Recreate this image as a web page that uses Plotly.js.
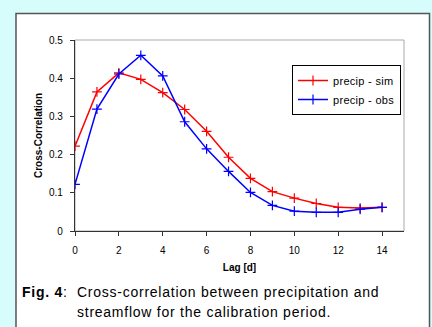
<!DOCTYPE html>
<html><head><meta charset="utf-8">
<script src="https://cdn.plot.ly/plotly-3.0.1.min.js"></script>
<style>html,body{margin:0;padding:0;background:#d6fcfc;}#c{width:432px;height:327px;}
.annotation-text{letter-spacing:0.75px;}
.legendtext{letter-spacing:0.3px;}</style>
</head><body><div id="c"></div>
<script>
const lag = [0,1,2,3,4,5,6,7,8,9,10,11,12,13,14];
const precipSim = [0.222,0.364,0.414,0.397,0.362,0.318,0.261,0.193,0.138,0.103,0.086,0.072,0.062,0.060,0.062];
const precipObs = [0.122,0.319,0.411,0.460,0.406,0.286,0.215,0.156,0.101,0.067,0.052,0.049,0.049,0.057,0.062];
const xTicks = [0,2,4,6,8,10,12,14];
const yTicks = [0,0.1,0.2,0.3,0.4,0.5];
const yTickText = ['0','0.1','0.2','0.3','0.4','0.5'];

const F = 'Liberation Sans, Arial, sans-serif';
const mk = c => ({symbol:'cross-thin-open', size:7, line:{color:c, width:1.2}});
const traces = [
  {x:lag, y:precipSim, name:'precip - sim', mode:'lines+markers', line:{color:'#ff0000', width:1.5}, marker:mk('#ff0000')},
  {x:lag, y:precipObs, name:'precip - obs', mode:'lines+markers', line:{color:'#0000ff', width:1.5}, marker:mk('#0000ff')}
];
// plot area: 75..404 px horizontally, 40..231 px vertically
const W=329, H=191;
const px = v => (v-75)/W, py = v => (231-v)/H;
const layout = {
  width:432, height:327,
  margin:{l:75, r:28, t:40, b:96},
  paper_bgcolor:'#d6fcfc', plot_bgcolor:'#ffffff',
  font:{family:F, size:10, color:'#000'},
  showlegend:true,
  legend:{x:px(292), y:py(65), xanchor:'left', yanchor:'top', bgcolor:'#ffffff', bordercolor:'#000', borderwidth:1, font:{family:F, size:11}, tracegroupgap:0, itemwidth:30},
  xaxis:{range:[0,15], tickvals:xTicks, ticks:'outside', ticklen:4, tickcolor:'#333', showline:true, linecolor:'#333', linewidth:1.2, showgrid:false, zeroline:false, tickfont:{size:10}, ticklabelstandoff:6,
    title:{text:'<b>Lag [d]</b>', font:{size:10}, standoff:8}, automargin:false},
  yaxis:{range:[0,0.5], tickvals:yTicks, ticktext:yTickText, ticks:'outside', ticklen:4, tickcolor:'#333', showline:true, linecolor:'#333', linewidth:1.2, showgrid:false, zeroline:false, tickfont:{size:10}, ticklabelstandoff:5,
    title:{text:'<b>Cross-Correlation</b>', font:{size:10}, standoff:4}, automargin:false},
  shapes:[
    {type:'rect', xref:'paper', yref:'paper', x0:px(16), x1:px(429.5), y0:py(345), y1:py(13.5), fillcolor:'#ffffff', line:{color:'#555555', width:1.5}, layer:'below'},
    {type:'rect', xref:'paper', yref:'paper', x0:0, x1:1, y0:0, y1:1, line:{color:'#aaaaaa', width:1}, layer:'below'}
  ],
  annotations:[
    {xref:'paper', yref:'paper', x:px(20), y:py(292), xanchor:'left', yanchor:'middle', showarrow:false, text:'<b>Fig. 4</b>:', font:{family:F, size:14}},
    {xref:'paper', yref:'paper', x:px(75), y:py(292), xanchor:'left', yanchor:'middle', showarrow:false, text:'Cross-correlation between precipitation and', font:{family:F, size:14}},
    {xref:'paper', yref:'paper', x:px(75), y:py(312), xanchor:'left', yanchor:'middle', showarrow:false, text:'streamflow for the calibration period.', font:{family:F, size:14}}
  ]
};
Plotly.newPlot('c', traces, layout, {displayModeBar:false, staticPlot:true});
</script></body></html>
